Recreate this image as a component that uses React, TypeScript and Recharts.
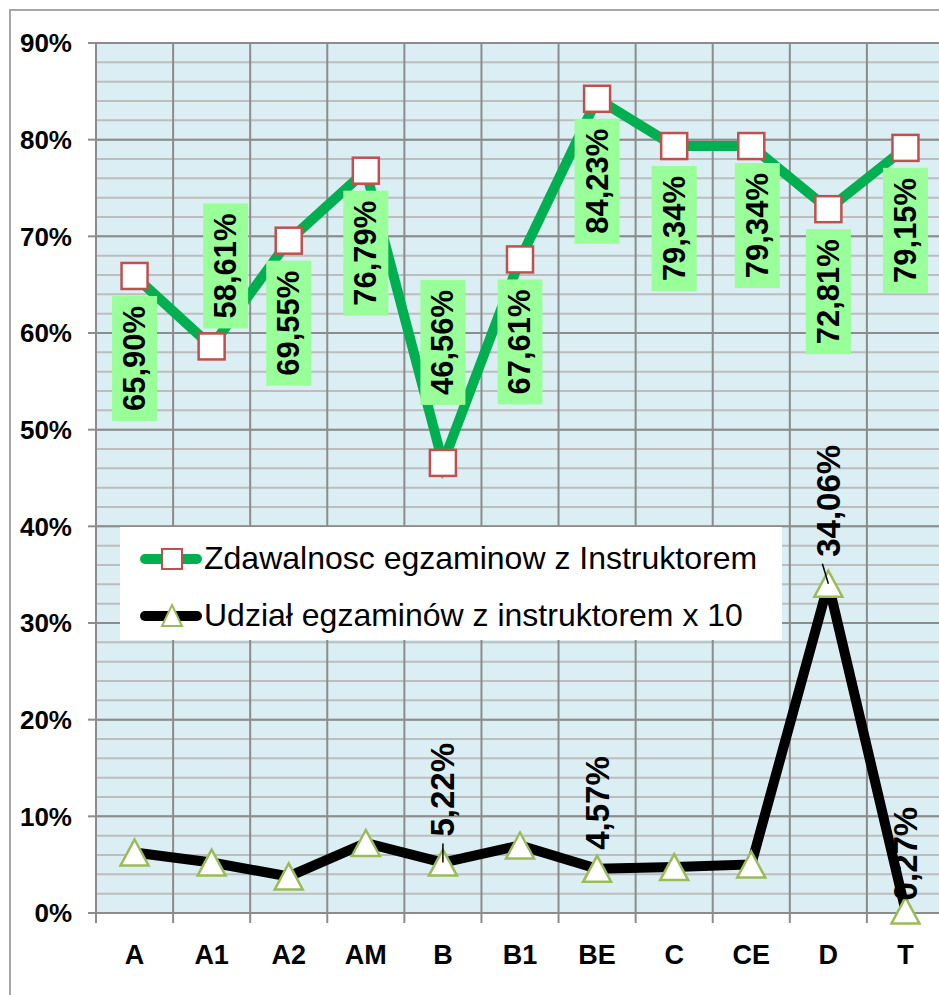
import React from 'react'
import {
  CartesianGrid,
  LabelList,
  Legend,
  Line,
  LineChart,
  XAxis,
  YAxis,
} from 'recharts'

const categories = ['A', 'A1', 'A2', 'AM', 'B', 'B1', 'BE', 'C', 'CE', 'D', 'T']

// Zdawalnosc egzaminow z Instruktorem (%)
const passRate = [65.9, 58.61, 69.55, 76.79, 46.56, 67.61, 84.23, 79.34, 79.34, 72.81, 79.15]

// Udzial egzaminow z instruktorem x 10 (%)
const instructorShare = [6.26, 5.22, 3.78, 7.24, 5.22, 6.98, 4.57, 4.75, 5.02, 34.06, 0.27]

const yTicks = [0, 10, 20, 30, 40, 50, 60, 70, 80, 90]
const minorStep = 2

const passName = 'Zdawalnosc egzaminow z Instruktorem'
const shareName = 'Udział egzaminów z instruktorem x 10'

const chartData = categories.map((cat, i) => ({
  cat,
  pass: passRate[i],
  share: instructorShare[i],
}))

// label placement tweaks (Excel moved a few of them by hand)
const passLabelNudge: Record<string, { side: 'above' | 'below'; gap: number; dx: number }> = {
  A1: { side: 'above', gap: 18, dx: 14 },
  B: { side: 'above', gap: 58, dx: 0 },
  CE: { side: 'below', gap: 17, dx: 6 },
}
const shareLabelNudge: Record<string, { gap: number; leader: boolean; lean: number }> = {
  B: { gap: 26, leader: true, lean: 0 },
  BE: { gap: 19, leader: false, lean: 0 },
  D: { gap: 27, leader: true, lean: -6 },
  T: { gap: 10, leader: false, lean: 0 },
}

const FONT = 'Arial, "Liberation Sans", sans-serif'
const CHART_W = 960
const CHART_H = 995
const Y_AXIS_W = 86
const MARGIN = { top: 43, right: 16, bottom: 22, left: 10 }
const X_AXIS_H = CHART_H - 913 - MARGIN.bottom
const PLOT_W = CHART_W - MARGIN.left - Y_AXIS_W - MARGIN.right
const BAND = PLOT_W / categories.length
const Y_MAX = yTicks[yTicks.length - 1]

const GREEN = '#00B050'
const GRID_MAJOR = '#8C8C8C'
const GRID_MINOR = '#BDBDBD'

const fmt = (v: number) => `${v.toFixed(2).replace('.', ',')}%`

const SquareDot = (p: any) => {
  const { cx, cy, index } = p
  if (cx == null || cy == null) return null
  return (
    <rect
      key={`sq-${index}`}
      x={cx - 13}
      y={cy - 13}
      width={26}
      height={26}
      fill='#ffffff'
      stroke='#C0504D'
      strokeWidth={2.5}
    />
  )
}

const TriangleDot = (p: any) => {
  const { cx, cy, index } = p
  if (cx == null || cy == null) return null
  return (
    <polygon
      key={`tri-${index}`}
      points={`${cx},${cy - 13} ${cx + 14},${cy + 13} ${cx - 14},${cy + 13}`}
      fill='#ffffff'
      stroke='#9BBB59'
      strokeWidth={2.5}
    />
  )
}

const PassLabel = (p: any) => {
  const { x, y, value, index } = p
  const cat = categories[index]
  const nudge = passLabelNudge[cat] ?? { side: 'below', gap: 20, dx: 0 }
  const w = 45
  const h = 125
  const cx = x + nudge.dx
  const top = nudge.side === 'below' ? y + nudge.gap : y - nudge.gap - h
  const cy = top + h / 2
  return (
    <g>
      <rect x={cx - w / 2} y={top} width={w} height={h} fill='#99FF99' />
      <text
        x={cx}
        y={cy}
        transform={`rotate(-90 ${cx} ${cy})`}
        textAnchor='middle'
        dominantBaseline='central'
        fontFamily={FONT}
        fontWeight='bold'
        fontSize={31}
        fill='#000'
      >
        {fmt(value)}
      </text>
    </g>
  )
}

const ShareLabel = (p: any) => {
  const { x, y, value, index } = p
  const nudge = shareLabelNudge[categories[index]]
  if (!nudge) return null
  const by = y - nudge.gap
  return (
    <g>
      {nudge.leader && (
        <line x1={x + nudge.lean} y1={by + 7} x2={x} y2={y} stroke='#000' strokeWidth={1.5} />
      )}
      <text
        x={x}
        y={by}
        transform={`rotate(-90 ${x} ${by})`}
        textAnchor='start'
        dominantBaseline='central'
        fontFamily={FONT}
        fontWeight='bold'
        fontSize={33}
        fill='#000'
      >
        {fmt(value)}
      </text>
    </g>
  )
}

const XTick = (p: any) => {
  const { x, y, payload } = p
  const edge = x - BAND / 2
  return (
    <g>
      <line x1={edge} x2={edge} y1={y} y2={y + 10} stroke={GRID_MAJOR} strokeWidth={2} />
      <text
        x={x}
        y={y + 42}
        textAnchor='middle'
        dominantBaseline='central'
        fontFamily={FONT}
        fontWeight='bold'
        fontSize={27}
        fill='#000'
      >
        {payload.value}
      </text>
    </g>
  )
}

const LegendBox = () => {
  const rows = [
    { name: passName, color: GREEN, marker: 'square' },
    { name: shareName, color: '#000', marker: 'triangle' },
  ]
  return (
    <div style={{ background: '#fff', width: 662, height: 113, boxSizing: 'border-box', paddingTop: 8 }}>
      {rows.map((r) => (
        <div key={r.name} style={{ display: 'flex', alignItems: 'center', height: 47, marginBottom: 10 }}>
          <svg width={84} height={30} style={{ display: 'block' }}>
            <line x1={25} x2={77} y1={15} y2={15} stroke={r.color} strokeWidth={10} strokeLinecap='round' />
            {r.marker === 'square' ? (
              <rect x={42} y={5} width={20} height={20} fill='#fff' stroke='#C0504D' strokeWidth={2} />
            ) : (
              <polygon points='52,4 62,25 42,25' fill='#fff' stroke='#9BBB59' strokeWidth={2} />
            )}
          </svg>
          <span style={{ fontFamily: FONT, fontSize: 32, color: '#000', whiteSpace: 'nowrap' }}>{r.name}</span>
        </div>
      ))}
    </div>
  )
}

export default function App() {
  return (
    <div
      style={{
        position: 'absolute',
        left: 0,
        top: 0,
        width: 939,
        height: 995,
        overflow: 'hidden',
        background: '#fff',
      }}
    >
      <div
        style={{
          position: 'absolute',
          left: 9,
          top: 9,
          width: 1200,
          height: 1200,
          border: '2px solid #A6A6A6',
        }}
      />
      <div style={{ position: 'absolute', left: 0, top: 0 }}>
        <LineChart width={CHART_W} height={CHART_H} data={chartData} margin={MARGIN}>
          <CartesianGrid
            fill='#DAEEF3'
            stroke={GRID_MINOR}
            strokeWidth={2}
            vertical={false}
            horizontalCoordinatesGenerator={({ offset }: any) =>
              Array.from({ length: Y_MAX / minorStep + 1 }, (_, i) => offset.top + offset.height * (1 - (i * minorStep) / Y_MAX))
            }
          />
          <CartesianGrid
            stroke={GRID_MAJOR}
            strokeWidth={2}
            horizontalCoordinatesGenerator={({ offset }: any) =>
              yTicks.map((v) => offset.top + offset.height * (1 - v / Y_MAX))
            }
            verticalCoordinatesGenerator={({ offset }: any) =>
              Array.from({ length: categories.length + 1 }, (_, i) => offset.left + i * (offset.width / categories.length))
            }
          />
          <XAxis
            dataKey='cat'
            height={X_AXIS_H}
            interval={0}
            padding={{ left: BAND / 2, right: BAND / 2 }}
            tickLine={false}
            tickSize={0}
            tickMargin={0}
            axisLine={{ stroke: GRID_MAJOR, strokeWidth: 2 }}
            tick={<XTick />}
          />
          <YAxis
            width={Y_AXIS_W}
            domain={[0, Y_MAX]}
            ticks={yTicks}
            tickFormatter={(v) => `${v}%`}
            tickSize={8}
            tickMargin={16}
            axisLine={{ stroke: GRID_MAJOR, strokeWidth: 2 }}
            tickLine={{ stroke: GRID_MAJOR, strokeWidth: 2 }}
            tick={{ fontFamily: FONT, fontWeight: 'bold', fontSize: 26, fill: '#000' }}
          />
          <Legend
            layout='vertical'
            align='center'
            verticalAlign='middle'
            content={<LegendBox />}
            wrapperStyle={{ left: 120, top: 527, width: 662, height: 113 }}
          />
          <Line
            name={passName}
            dataKey='pass'
            stroke={GREEN}
            strokeWidth={10}
            dot={SquareDot}
            activeDot={false}
            isAnimationActive={false}
          >
            <LabelList dataKey='pass' content={PassLabel} />
          </Line>
          <Line
            name={shareName}
            dataKey='share'
            stroke='#000'
            strokeWidth={10}
            dot={TriangleDot}
            activeDot={false}
            isAnimationActive={false}
          >
            <LabelList dataKey='share' content={ShareLabel} />
          </Line>
        </LineChart>
      </div>
    </div>
  )
}
